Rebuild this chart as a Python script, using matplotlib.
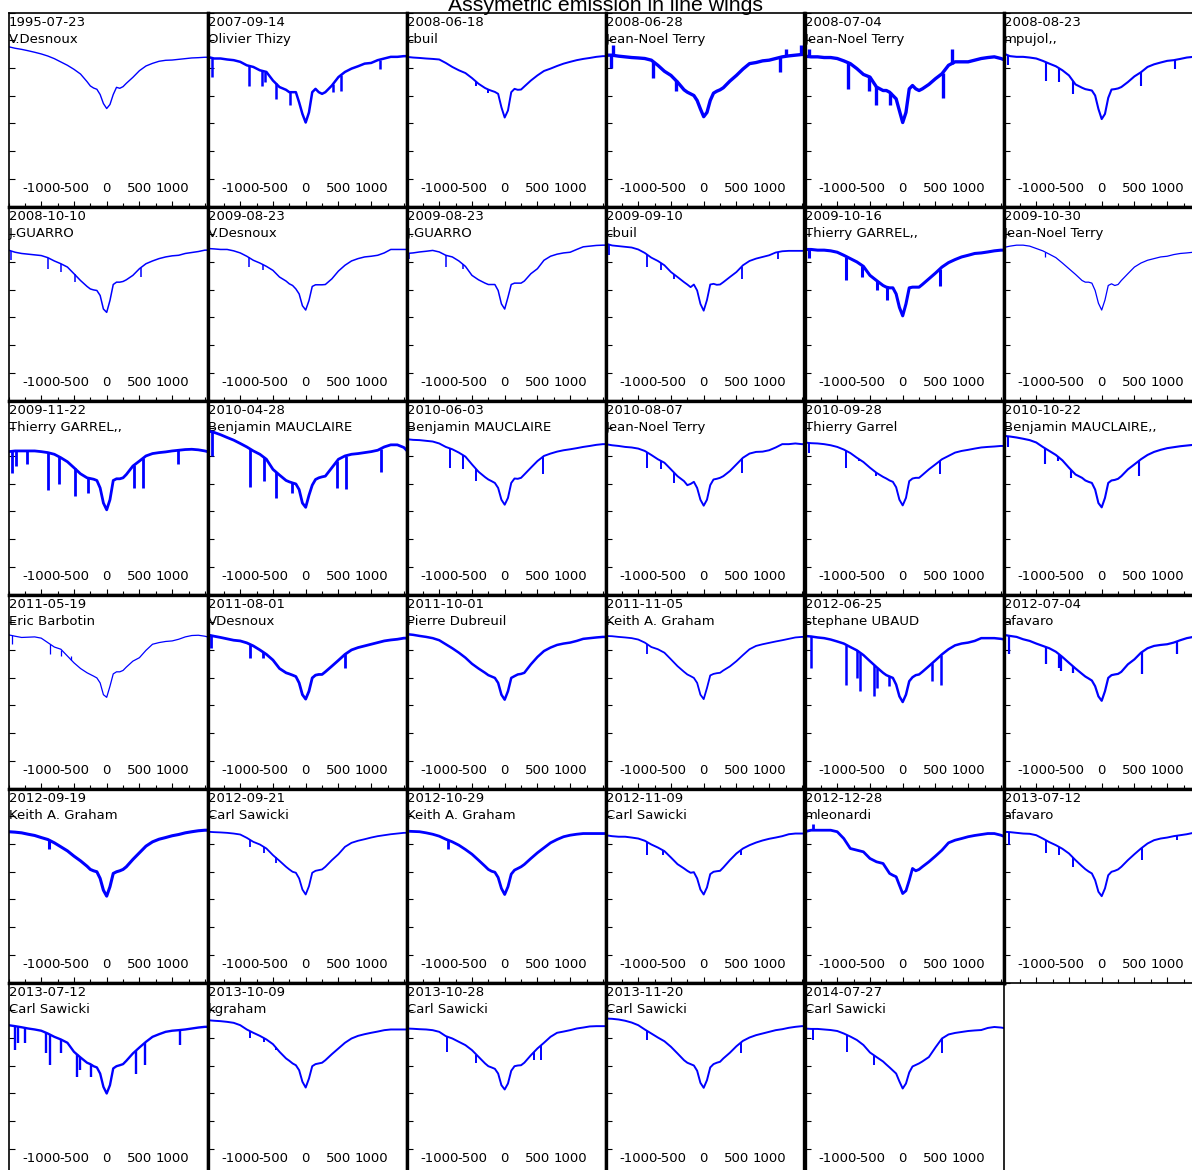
import numpy as np
import matplotlib.pyplot as plt
from matplotlib.ticker import MultipleLocator

plt.rcParams['axes.unicode_minus'] = False
plt.rcParams['font.family'] = 'DejaVu Sans'

# radial velocity grid (km/s), finer around the line core
vel = [-1500, -1400, -1300, -1200, -1100, -1000, -900, -800, -700, -600, -500, -400,
       -300, -250, -200, -150, -100, -50, 0, 50, 100, 150, 200, 250, 300,
       400, 500, 600, 700, 800, 900, 1000, 1100, 1200, 1300, 1400, 1500, 1540]

dates = ['1995-07-23', '2007-09-14', '2008-06-18', '2008-06-28', '2008-07-04', '2008-08-23',
         '2008-10-10', '2009-08-23', '2009-08-23', '2009-09-10', '2009-10-16', '2009-10-30',
         '2009-11-22', '2010-04-28', '2010-06-03', '2010-08-07', '2010-09-28', '2010-10-22',
         '2011-05-19', '2011-08-01', '2011-10-01', '2011-11-05', '2012-06-25', '2012-07-04',
         '2012-09-19', '2012-09-21', '2012-10-29', '2012-11-09', '2012-12-28', '2013-07-12',
         '2013-07-12', '2013-10-09', '2013-10-28', '2013-11-20', '2014-07-27']

observers = ['V.Desnoux', 'Olivier Thizy', 'cbuil', 'Jean-Noel Terry', 'Jean-Noel Terry', 'mpujol,,',
             'J.GUARRO', 'V.Desnoux', 'J.GUARRO', 'cbuil', 'Thierry GARREL,,', 'Jean-Noel Terry',
             'Thierry GARREL,,', 'Benjamin MAUCLAIRE', 'Benjamin MAUCLAIRE', 'Jean-Noel Terry',
             'Thierry Garrel', 'Benjamin MAUCLAIRE,,',
             'Eric Barbotin', 'VDesnoux', 'Pierre Dubreuil', 'Keith A. Graham', 'stephane UBAUD', 'afavaro',
             'Keith A. Graham', 'Carl Sawicki', 'Keith A. Graham', 'Carl Sawicki', 'mleonardi', 'afavaro',
             'Carl Sawicki', 'kgraham', 'Carl Sawicki', 'Carl Sawicki', 'Carl Sawicki']

# normalised flux on the vel grid, one spectrum per observation
p01 = [1.153, 1.142, 1.134, 1.124, 1.113, 1.101, 1.086, 1.067, 1.043, 1.019, 0.990, 0.956, 0.901, 0.870, 0.855, 0.846, 0.808, 0.743, 0.707, 0.736, 0.808, 0.860, 0.853, 0.865, 0.889, 0.932, 0.980, 1.014, 1.033, 1.048, 1.055, 1.057, 1.062, 1.067, 1.072, 1.074, 1.077, 1.077]
p02 = [1.080, 1.068, 1.068, 1.061, 1.056, 1.044, 1.019, 1.007, 0.983, 0.971, 0.909, 0.862, 0.842, 0.825, 0.825, 0.825, 0.751, 0.668, 0.606, 0.679, 0.825, 0.849, 0.825, 0.813, 0.825, 0.873, 0.934, 0.971, 0.995, 1.012, 1.031, 1.036, 1.056, 1.068, 1.080, 1.080, 1.085, 1.085]
p03 = [1.080, 1.075, 1.072, 1.068, 1.065, 1.061, 1.036, 1.007, 0.983, 0.963, 0.927, 0.886, 0.855, 0.844, 0.835, 0.827, 0.813, 0.716, 0.642, 0.693, 0.825, 0.849, 0.842, 0.844, 0.866, 0.909, 0.946, 0.978, 0.995, 1.014, 1.031, 1.044, 1.056, 1.065, 1.072, 1.080, 1.085, 1.085]
p04 = [1.092, 1.092, 1.085, 1.080, 1.075, 1.072, 1.068, 1.056, 1.019, 0.976, 0.946, 0.898, 0.842, 0.825, 0.813, 0.801, 0.765, 0.704, 0.648, 0.679, 0.765, 0.818, 0.832, 0.842, 0.857, 0.905, 0.946, 0.992, 1.031, 1.039, 1.051, 1.056, 1.068, 1.080, 1.087, 1.092, 1.097, 1.097]
p05 = [1.085, 1.080, 1.080, 1.075, 1.075, 1.068, 1.051, 1.031, 0.995, 0.953, 0.934, 0.862, 0.837, 0.837, 0.825, 0.801, 0.777, 0.691, 0.606, 0.679, 0.849, 0.873, 0.849, 0.837, 0.849, 0.881, 0.922, 0.958, 1.019, 1.044, 1.044, 1.044, 1.056, 1.068, 1.075, 1.080, 1.068, 1.061]
p06 = [1.104, 1.085, 1.080, 1.080, 1.075, 1.068, 1.051, 1.031, 1.012, 0.983, 0.946, 0.881, 0.857, 0.847, 0.842, 0.837, 0.801, 0.704, 0.631, 0.668, 0.784, 0.844, 0.847, 0.852, 0.862, 0.898, 0.939, 0.969, 1.007, 1.026, 1.039, 1.051, 1.056, 1.065, 1.075, 1.080, 1.085, 1.085]
p07 = [1.085, 1.070, 1.061, 1.056, 1.051, 1.046, 1.031, 1.007, 0.987, 0.963, 0.915, 0.866, 0.823, 0.805, 0.798, 0.794, 0.758, 0.660, 0.636, 0.722, 0.837, 0.854, 0.854, 0.859, 0.871, 0.903, 0.951, 0.987, 1.007, 1.024, 1.036, 1.044, 1.048, 1.061, 1.068, 1.075, 1.085, 1.085]
p08 = [1.097, 1.094, 1.090, 1.090, 1.080, 1.065, 1.041, 1.012, 0.992, 0.968, 0.939, 0.891, 0.862, 0.842, 0.830, 0.805, 0.769, 0.684, 0.653, 0.721, 0.823, 0.835, 0.835, 0.835, 0.837, 0.878, 0.934, 0.976, 1.007, 1.024, 1.036, 1.041, 1.048, 1.065, 1.090, 1.090, 1.090, 1.090]
p09 = [1.061, 1.065, 1.072, 1.077, 1.083, 1.072, 1.048, 1.036, 1.007, 0.968, 0.903, 0.871, 0.847, 0.837, 0.837, 0.837, 0.794, 0.697, 0.660, 0.745, 0.837, 0.847, 0.847, 0.847, 0.862, 0.915, 0.951, 1.012, 1.041, 1.056, 1.065, 1.070, 1.090, 1.109, 1.114, 1.119, 1.121, 1.121]
p10 = [1.133, 1.119, 1.114, 1.109, 1.104, 1.090, 1.065, 1.031, 1.007, 0.976, 0.927, 0.891, 0.854, 0.837, 0.818, 0.837, 0.794, 0.697, 0.648, 0.725, 0.837, 0.842, 0.835, 0.837, 0.854, 0.891, 0.927, 0.976, 1.007, 1.024, 1.036, 1.048, 1.068, 1.077, 1.080, 1.080, 1.080, 1.080]
p11 = [1.090, 1.090, 1.085, 1.085, 1.080, 1.070, 1.048, 1.024, 1.000, 0.968, 0.903, 0.866, 0.830, 0.818, 0.813, 0.813, 0.769, 0.672, 0.611, 0.697, 0.813, 0.818, 0.818, 0.818, 0.837, 0.878, 0.919, 0.963, 0.995, 1.017, 1.036, 1.048, 1.061, 1.065, 1.072, 1.080, 1.085, 1.085]
p12 = [1.104, 1.114, 1.121, 1.121, 1.114, 1.097, 1.080, 1.056, 1.031, 0.992, 0.951, 0.910, 0.866, 0.854, 0.854, 0.847, 0.794, 0.702, 0.653, 0.725, 0.830, 0.842, 0.830, 0.837, 0.866, 0.915, 0.963, 0.992, 1.012, 1.024, 1.036, 1.041, 1.053, 1.061, 1.065, 1.070, 1.072, 1.072]
p13 = [1.031, 1.036, 1.036, 1.036, 1.036, 1.031, 1.024, 1.012, 0.987, 0.958, 0.915, 0.871, 0.842, 0.837, 0.832, 0.823, 0.769, 0.660, 0.611, 0.684, 0.823, 0.835, 0.835, 0.842, 0.866, 0.927, 0.963, 1.000, 1.017, 1.024, 1.029, 1.036, 1.041, 1.046, 1.048, 1.044, 1.036, 1.031]
p14 = [1.181, 1.170, 1.153, 1.133, 1.114, 1.090, 1.065, 1.036, 1.012, 0.976, 0.903, 0.862, 0.823, 0.813, 0.805, 0.798, 0.757, 0.660, 0.629, 0.716, 0.789, 0.830, 0.842, 0.849, 0.854, 0.915, 0.976, 1.000, 1.012, 1.017, 1.024, 1.031, 1.041, 1.065, 1.080, 1.080, 1.061, 1.041]
p15 = [1.121, 1.116, 1.114, 1.109, 1.104, 1.090, 1.065, 1.048, 1.024, 0.995, 0.939, 0.886, 0.847, 0.830, 0.818, 0.805, 0.769, 0.684, 0.648, 0.697, 0.805, 0.837, 0.835, 0.842, 0.866, 0.915, 0.963, 1.000, 1.017, 1.031, 1.041, 1.048, 1.056, 1.065, 1.072, 1.080, 1.085, 1.085]
p16 = [1.085, 1.077, 1.072, 1.065, 1.061, 1.053, 1.036, 1.007, 0.976, 0.951, 0.903, 0.854, 0.818, 0.789, 0.798, 0.813, 0.769, 0.684, 0.641, 0.684, 0.789, 0.830, 0.835, 0.842, 0.854, 0.891, 0.939, 0.987, 1.017, 1.029, 1.031, 1.041, 1.061, 1.085, 1.085, 1.090, 1.085, 1.085]
p17 = [1.097, 1.092, 1.090, 1.085, 1.077, 1.065, 1.046, 1.021, 0.987, 0.956, 0.915, 0.878, 0.849, 0.837, 0.823, 0.813, 0.774, 0.684, 0.643, 0.697, 0.818, 0.837, 0.842, 0.842, 0.862, 0.903, 0.939, 0.976, 1.000, 1.024, 1.036, 1.044, 1.053, 1.061, 1.065, 1.068, 1.072, 1.072]
p18 = [1.145, 1.140, 1.133, 1.124, 1.114, 1.097, 1.065, 1.036, 1.007, 0.968, 0.915, 0.866, 0.842, 0.823, 0.813, 0.805, 0.757, 0.660, 0.629, 0.697, 0.805, 0.823, 0.827, 0.835, 0.854, 0.903, 0.939, 0.976, 1.007, 1.029, 1.044, 1.056, 1.063, 1.070, 1.075, 1.080, 1.085, 1.085]
p19 = [1.109, 1.099, 1.090, 1.092, 1.094, 1.085, 1.053, 1.021, 1.005, 0.956, 0.907, 0.866, 0.835, 0.823, 0.811, 0.798, 0.762, 0.677, 0.658, 0.738, 0.827, 0.842, 0.842, 0.852, 0.876, 0.919, 0.944, 0.997, 1.041, 1.053, 1.061, 1.065, 1.077, 1.094, 1.104, 1.106, 1.099, 1.094]
p20 = [1.109, 1.099, 1.090, 1.080, 1.070, 1.065, 1.051, 1.029, 1.000, 0.968, 0.927, 0.866, 0.835, 0.827, 0.818, 0.808, 0.762, 0.677, 0.645, 0.702, 0.798, 0.818, 0.823, 0.823, 0.842, 0.883, 0.925, 0.968, 1.000, 1.017, 1.029, 1.041, 1.053, 1.065, 1.072, 1.077, 1.085, 1.085]
p21 = [1.114, 1.109, 1.101, 1.094, 1.085, 1.070, 1.041, 1.012, 0.980, 0.944, 0.900, 0.866, 0.835, 0.818, 0.808, 0.798, 0.762, 0.677, 0.641, 0.702, 0.798, 0.811, 0.823, 0.827, 0.835, 0.896, 0.949, 0.992, 1.017, 1.036, 1.046, 1.053, 1.065, 1.080, 1.085, 1.090, 1.094, 1.094]
p22 = [1.101, 1.099, 1.094, 1.090, 1.085, 1.075, 1.053, 1.021, 1.005, 0.980, 0.932, 0.883, 0.842, 0.823, 0.811, 0.798, 0.762, 0.677, 0.645, 0.725, 0.816, 0.827, 0.832, 0.835, 0.852, 0.881, 0.919, 0.963, 1.005, 1.029, 1.041, 1.051, 1.061, 1.070, 1.080, 1.090, 1.094, 1.094]
p23 = [1.101, 1.097, 1.090, 1.085, 1.075, 1.061, 1.046, 1.021, 0.997, 0.963, 0.919, 0.876, 0.835, 0.818, 0.808, 0.798, 0.750, 0.665, 0.624, 0.677, 0.774, 0.803, 0.818, 0.823, 0.842, 0.883, 0.925, 0.968, 1.005, 1.033, 1.046, 1.053, 1.065, 1.085, 1.085, 1.085, 1.080, 1.077]
p24 = [1.109, 1.101, 1.094, 1.077, 1.065, 1.046, 1.029, 1.012, 0.987, 0.949, 0.907, 0.866, 0.827, 0.808, 0.794, 0.779, 0.738, 0.665, 0.633, 0.702, 0.798, 0.818, 0.823, 0.827, 0.842, 0.896, 0.932, 0.980, 1.012, 1.029, 1.036, 1.041, 1.053, 1.070, 1.085, 1.094, 1.099, 1.099]
p25 = [1.088, 1.085, 1.080, 1.070, 1.061, 1.046, 1.032, 1.008, 0.979, 0.950, 0.912, 0.878, 0.839, 0.816, 0.806, 0.799, 0.751, 0.666, 0.623, 0.691, 0.787, 0.799, 0.806, 0.816, 0.835, 0.888, 0.936, 0.984, 1.015, 1.034, 1.046, 1.059, 1.068, 1.080, 1.088, 1.095, 1.099, 1.099]
p26 = [1.088, 1.085, 1.083, 1.080, 1.075, 1.068, 1.044, 1.015, 0.996, 0.967, 0.919, 0.878, 0.835, 0.816, 0.799, 0.792, 0.751, 0.671, 0.635, 0.695, 0.792, 0.806, 0.811, 0.816, 0.835, 0.883, 0.926, 0.979, 1.008, 1.023, 1.034, 1.046, 1.056, 1.063, 1.070, 1.075, 1.080, 1.080]
p27 = [1.092, 1.090, 1.088, 1.080, 1.070, 1.056, 1.034, 1.015, 0.991, 0.960, 0.926, 0.883, 0.839, 0.816, 0.803, 0.796, 0.758, 0.679, 0.635, 0.691, 0.782, 0.811, 0.823, 0.835, 0.852, 0.895, 0.936, 0.972, 1.008, 1.032, 1.052, 1.063, 1.070, 1.075, 1.075, 1.075, 1.075, 1.075]
p28 = [1.063, 1.056, 1.052, 1.052, 1.046, 1.039, 1.023, 0.996, 0.974, 0.948, 0.902, 0.854, 0.823, 0.806, 0.792, 0.796, 0.751, 0.671, 0.635, 0.686, 0.782, 0.799, 0.803, 0.806, 0.830, 0.883, 0.931, 0.967, 0.991, 1.010, 1.025, 1.037, 1.046, 1.056, 1.070, 1.075, 1.075, 1.075]
p29 = [1.088, 1.099, 1.099, 1.099, 1.099, 1.088, 1.039, 0.967, 0.955, 0.943, 0.895, 0.871, 0.859, 0.823, 0.787, 0.774, 0.763, 0.702, 0.642, 0.662, 0.738, 0.823, 0.806, 0.816, 0.835, 0.871, 0.912, 0.955, 1.008, 1.027, 1.039, 1.052, 1.061, 1.068, 1.075, 1.075, 1.063, 1.056]
p30 = [1.088, 1.085, 1.080, 1.075, 1.073, 1.063, 1.039, 1.013, 0.991, 0.965, 0.931, 0.883, 0.839, 0.818, 0.801, 0.787, 0.738, 0.655, 0.623, 0.679, 0.774, 0.799, 0.806, 0.816, 0.835, 0.883, 0.926, 0.967, 1.003, 1.027, 1.039, 1.046, 1.056, 1.063, 1.070, 1.080, 1.088, 1.088]
p31 = [1.092, 1.085, 1.077, 1.068, 1.061, 1.052, 1.032, 1.008, 0.989, 0.965, 0.900, 0.859, 0.821, 0.811, 0.796, 0.787, 0.743, 0.647, 0.599, 0.659, 0.780, 0.796, 0.803, 0.811, 0.835, 0.888, 0.931, 0.972, 1.008, 1.027, 1.044, 1.052, 1.056, 1.061, 1.068, 1.075, 1.080, 1.080]
p32 = [1.128, 1.124, 1.121, 1.116, 1.109, 1.092, 1.061, 1.037, 1.015, 0.989, 0.955, 0.900, 0.852, 0.835, 0.816, 0.803, 0.767, 0.684, 0.642, 0.707, 0.796, 0.811, 0.816, 0.821, 0.839, 0.883, 0.924, 0.965, 0.996, 1.015, 1.027, 1.037, 1.046, 1.056, 1.061, 1.061, 1.061, 1.061]
p33 = [1.068, 1.066, 1.063, 1.061, 1.056, 1.044, 1.013, 0.996, 0.972, 0.948, 0.912, 0.864, 0.816, 0.796, 0.787, 0.777, 0.743, 0.659, 0.628, 0.671, 0.763, 0.796, 0.801, 0.803, 0.821, 0.875, 0.924, 0.965, 1.008, 1.037, 1.046, 1.056, 1.068, 1.075, 1.083, 1.085, 1.085, 1.085]
p34 = [1.140, 1.138, 1.133, 1.124, 1.111, 1.092, 1.061, 1.032, 1.003, 0.976, 0.936, 0.888, 0.839, 0.821, 0.811, 0.801, 0.763, 0.676, 0.640, 0.695, 0.787, 0.811, 0.821, 0.828, 0.852, 0.893, 0.940, 0.979, 1.003, 1.020, 1.032, 1.044, 1.056, 1.063, 1.073, 1.080, 1.085, 1.085]
p35 = [1.068, 1.065, 1.065, 1.061, 1.057, 1.050, 1.032, 1.010, 0.985, 0.949, 0.895, 0.862, 0.830, 0.808, 0.787, 0.765, 0.743, 0.686, 0.635, 0.671, 0.751, 0.794, 0.805, 0.816, 0.830, 0.862, 0.931, 0.996, 1.025, 1.036, 1.043, 1.050, 1.054, 1.057, 1.072, 1.079, 1.075, 1.072]

# narrow telluric lines and noise spikes: (velocity, flux at the tip)
d01 = []
d02 = [(-1424, 0.934), (-869, 0.866), (-665, 0.873), (-624, 0.898), (-460, 0.777), (-244, 0.736), (418, 0.825), (535, 0.837), (1128, 0.989)]
d03 = [(-840, 1.019), (-431, 0.873), (-256, 0.818)]
d04 = [(-1413, 0.996), (-774, 0.924), (-425, 0.837), (1171, 0.971), (-1380, 1.162), (1480, 1.162), (1250, 1.133)]
d05 = [(-838, 0.849), (-513, 0.837), (-414, 0.729), (-199, 0.729), (614, 0.784), (-1430, 1.140), (747, 1.140)]
d06 = [(-1430, 1.019), (-850, 0.909), (-658, 0.898), (-443, 0.813), (602, 0.866), (1125, 0.995)]
d07 = [(-1465, 1.012), (-898, 0.951), (-694, 0.927), (-490, 0.854), (521, 0.891)]
d08 = [(-869, 0.963), (-653, 0.939)]
d09 = [(-1465, 1.024), (-898, 0.963), (-636, 0.951)]
d10 = [(-1442, 1.048), (-869, 0.963), (-658, 0.939), (-455, 0.878), (579, 0.878), (1142, 1.024)]
d11 = [(-1430, 1.025), (-861, 0.866), (-617, 0.891), (-385, 0.794), (-240, 0.722), (573, 0.825)]
d12 = [(-861, 1.036)]
d13 = [(-1453, 0.878), (-1383, 0.927), (-1220, 0.939), (-898, 0.757), (-723, 0.794), (-490, 0.709), (-285, 0.733), (416, 0.769), (550, 0.769), (1088, 0.939)]
d14 = [(-1430, 1.000), (-857, 0.774), (-636, 0.818), (-460, 0.697), (-215, 0.733), (474, 0.769), (620, 0.764), (1146, 0.886)]
d15 = [(-840, 0.915), (-636, 0.903), (-431, 0.818), (591, 0.866)]
d16 = [(-861, 0.915), (-653, 0.903), (-449, 0.805), (591, 0.878)]
d17 = [(-1430, 1.024), (-867, 0.915), (-675, 0.963), (-414, 0.854), (573, 0.866)]
d18 = [(-1430, 1.061), (-861, 0.939), (-675, 0.963), (-472, 0.842), (573, 0.854)]
d19 = [(-1453, 1.041), (-869, 0.968), (-694, 0.956), (-548, 0.956)]
d20 = [(-1453, 1.017), (-857, 0.944), (-653, 0.944), (603, 0.871)]
d21 = []
d22 = [(-872, 0.968)]
d23 = [(-1401, 0.871), (-861, 0.750), (-704, 0.798), (-646, 0.702), (-443, 0.665), (-385, 0.725), (-204, 0.738), (446, 0.774), (591, 0.750)]
d24 = [(-1412, 0.968), (-850, 0.896), (-646, 0.871), (-617, 0.847), (-443, 0.834), (614, 0.823), (1154, 0.968)]
d25 = [(-881, 0.967)]
d26 = [(-857, 0.979), (-636, 0.931), (-460, 0.859)]
d27 = [(-869, 0.967)]
d28 = [(-869, 0.919), (-624, 0.919), (574, 0.919)]
d29 = [(-1372, 1.147)]
d30 = [(-1412, 0.991), (-850, 0.931), (-646, 0.919), (-443, 0.835), (614, 0.883), (1154, 1.027)]
d31 = [(-1407, 0.912), (-1354, 0.960), (-1249, 0.960), (-928, 0.888), (-869, 0.803), (-694, 0.888), (-460, 0.720), (-402, 0.767), (-244, 0.720), (445, 0.743), (579, 0.803), (1117, 0.948)]
d32 = [(-857, 0.996), (-636, 0.972), (-460, 0.912)]
d33 = [(-881, 0.900), (-431, 0.816), (445, 0.839), (562, 0.839)]
d34 = [(-869, 0.984), (574, 0.888)]
d35 = [(-1366, 0.985), (-856, 0.901), (-433, 0.805), (594, 0.889)]

profiles = [p01, p02, p03, p04, p05, p06, p07, p08, p09, p10, p11, p12,
            p13, p14, p15, p16, p17, p18, p19, p20, p21, p22, p23, p24,
            p25, p26, p27, p28, p29, p30, p31, p32, p33, p34, p35]
dips = [d01, d02, d03, d04, d05, d06, d07, d08, d09, d10, d11, d12,
        d13, d14, d15, d16, d17, d18, d19, d20, d21, d22, d23, d24,
        d25, d26, d27, d28, d29, d30, d31, d32, d33, d34, d35]

# thicker strokes for the noisier spectra
lw_panel = [1.0, 1.8, 1.4, 2.4, 2.4, 1.5, 1.1, 1.1, 1.1, 1.3, 2.2, 0.9,
            2.0, 2.0, 1.4, 1.4, 1.4, 1.5, 0.9, 2.0, 1.8, 1.3, 1.8, 1.6,
            2.2, 1.3, 2.0, 1.4, 2.0, 1.4, 1.7, 1.4, 1.4, 1.4, 1.4]

W, H = 1192.0, 1170.0
ncol = 6
n = len(profiles)
fig = plt.figure(figsize=(W / 100, H / 100), dpi=100)

for i in range(n):
    r, c = divmod(i, ncol)
    x0 = 8.5 + 199 * c
    y0 = 12.5 + 194 * r
    ax = fig.add_axes([x0 / W, 1 - (y0 + 194) / H, 199 / W, 194 / H])
    lw = lw_panel[i]
    ax.plot(vel, profiles[i], color='#0000ff', lw=lw)
    for v, f in dips[i]:
        base = np.interp(v, vel, profiles[i])
        ax.vlines(v, min(base, f), max(base, f), color='#0000ff', lw=lw)
    ax.set_xlim(-1500, 1540)
    ax.set_ylim(0, 1.4)
    ax.set_xticks([-1000, -500, 0, 500, 1000])
    ax.xaxis.set_minor_locator(MultipleLocator(250))
    ax.set_yticks(np.arange(0, 1.41, 0.2))
    ax.set_yticklabels([])
    ax.tick_params(axis='x', which='both', direction='in', pad=-17.5, labelsize=9.5)
    ax.tick_params(axis='x', which='major', length=4.4, width=0.8)
    ax.tick_params(axis='x', which='minor', length=3.2, width=0.8)
    ax.tick_params(axis='y', direction='in', length=4.5, width=0.8)

    # shared edges between neighbouring panels look doubled, outer edges stay thin
    for s in ax.spines.values():
        s.set_linewidth(2.4)
    if c == 0:
        ax.spines['left'].set_linewidth(1.2)
    if r == 0:
        ax.spines['top'].set_linewidth(1.2)
    if i == n - 1:
        ax.spines['right'].set_linewidth(1.2)
    if i + ncol >= n and c == ncol - 1:
        ax.spines['bottom'].set_linewidth(1.2)

    ax.text(0.001, 0.932, dates[i], transform=ax.transAxes, fontsize=9.5, zorder=1)
    ax.text(0.001, 0.844, observers[i], transform=ax.transAxes, fontsize=9.5, zorder=1)

fig.text(605 / W, 1 - 11 / H, 'Assymetric emission in line wings', ha='center', va='baseline',
         fontsize=15.3, family='Liberation Sans')

fig.savefig('out.png', dpi=100)
